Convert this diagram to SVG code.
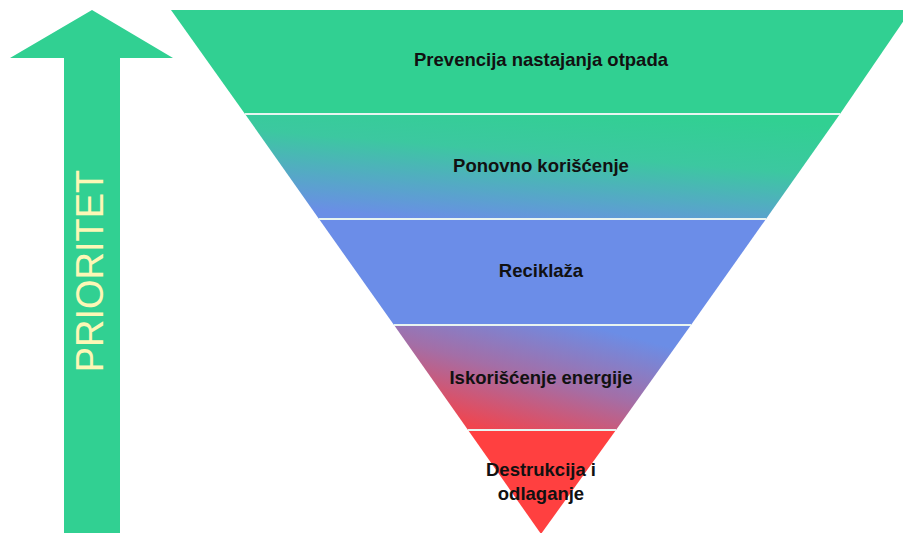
<svg xmlns="http://www.w3.org/2000/svg" width="903" height="533" viewBox="0 0 903 533">
<style>
.lbl{font-family:"Liberation Sans",Arial,sans-serif;font-size:18.5px;font-weight:bold;fill:#111;text-anchor:middle}
.sep{stroke:#e8f4f0;stroke-width:2}
</style>
<defs>
<linearGradient id="g2" x1="0.75" y1="0" x2="0.3" y2="1">
<stop offset="0" stop-color="#31d092"/>
<stop offset="0.4" stop-color="#3cc8a0"/>
<stop offset="1" stop-color="#6a8ee6"/>
</linearGradient>
<linearGradient id="g4" x1="0.85" y1="0.15" x2="0.25" y2="0.95">
<stop offset="0" stop-color="#6b8de6"/>
<stop offset="0.5" stop-color="#a46ea6"/>
<stop offset="1" stop-color="#f0454f"/>
</linearGradient>
</defs>
<rect width="903" height="533" fill="#fff"/>
<g id="arrow">
<polygon points="92,10 173,58 120,58 120,533 64,533 64,58 10,58" fill="#31d092"/>
<text transform="translate(103,271) rotate(-90)" font-family="'Liberation Sans',Arial,sans-serif" font-size="38" fill="#fdf7b6" text-anchor="middle">PRIORITET</text>
</g>
<g id="layer1">
<polygon points="171,10 911,10 840,114 245,114" fill="#31d092"/>
<text class="lbl" x="541" y="66">Prevencija nastajanja otpada</text>
</g>
<g id="layer2">
<polygon points="245,114 840,114 766,219 319,219" fill="url(#g2)"/>
<text class="lbl" x="541" y="172">Ponovno korišćenje</text>
</g>
<g id="layer3">
<polygon points="319,219 766,219 691,325 394,325" fill="#6b8de8"/>
<text class="lbl" x="541" y="277">Reciklaža</text>
</g>
<g id="layer4">
<polygon points="394,325 691,325 616,430 468,430" fill="url(#g4)"/>
<text class="lbl" x="541" y="384">Iskorišćenje energije</text>
</g>
<g id="layer5">
<polygon points="468,430 616,430 541,534" fill="#ff4040"/>
<text class="lbl" x="541" y="476">Destrukcija i</text>
<text class="lbl" x="541" y="500">odlaganje</text>
</g>
<g id="connectors">
<line class="sep" x1="245" y1="114" x2="840" y2="114"/>
<line class="sep" x1="319" y1="219" x2="766" y2="219"/>
<line class="sep" x1="394" y1="325" x2="691" y2="325"/>
<line class="sep" x1="468" y1="430" x2="616" y2="430"/>
</g>
</svg>
